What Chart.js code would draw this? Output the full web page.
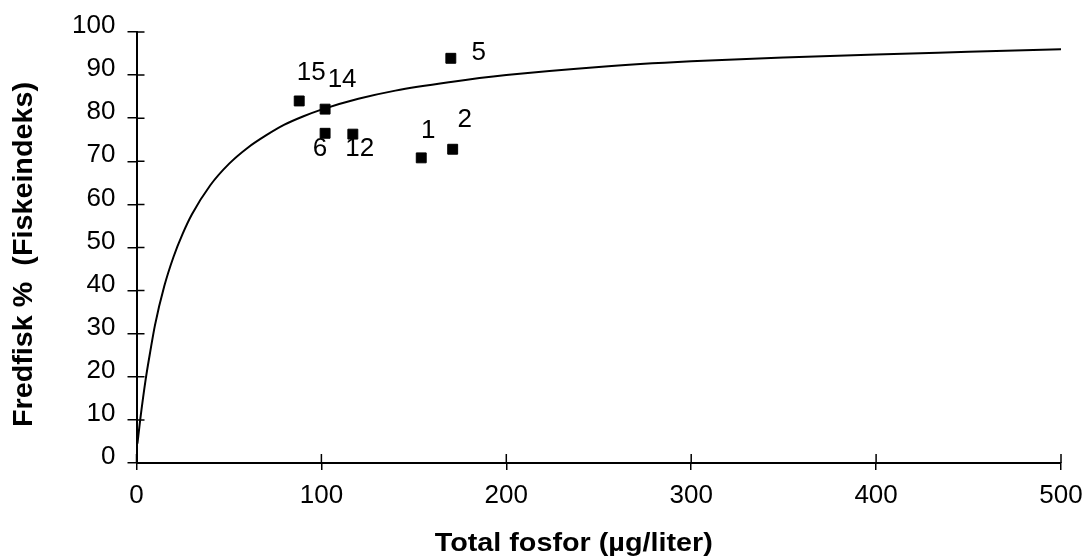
<!DOCTYPE html>
<html>
<head>
<meta charset="utf-8">
<script src="https://cdn.jsdelivr.net/npm/chart.js@4"></script>
<style>
  html, body { margin: 0; padding: 0; background: #fff; }
  #wrap { width: 1087px; height: 559px; position: relative; }
</style>
</head>
<body>
<div id="wrap"><canvas id="chart"></canvas></div>
<script>
// measured lakes
const lakeNames = ['15', '14', '6', '12', '1', '2', '5'];
const lakeFosfor = [88, 102, 102, 117, 154, 171, 170];
const lakeFredfisk = [84, 82.1, 76.5, 76.3, 70.8, 72.8, 93.9];

// fitted curve
const curveFosfor = [0.5, 2, 5, 7.5, 10, 15, 20, 25, 30, 40, 50, 60, 70, 80, 90, 100, 120, 140, 170, 200, 250, 300, 350, 400, 450, 500];
const curveFredfisk = [4.5, 10, 19.5, 26, 32, 41, 47.8, 53.2, 57.7, 64.5, 69.4, 73.1, 76, 78.5, 80.4, 82, 84.5, 86.4, 88.4, 90, 91.9, 93.2, 94.1, 94.8, 95.4, 96];

const xTicks = [0, 100, 200, 300, 400, 500];

const xTitle = 'Total fosfor (µg/liter)';
const yTitle = 'Fredfisk %  (Fiskeindeks)';

// label offsets (px) from each marker
const labelDx = [12, 17, -5, 7, 7, 12, 28];
const labelDy = [-28, -29, 16, 15, -27, -29, -5];

const FONT = '"Liberation Sans", Arial, sans-serif';
Chart.defaults.font.family = FONT;
Chart.defaults.color = '#000';

// tick marks that cross the axis line
const innerTicks = {
    id: 'innerTicks',
    afterDraw(chart) {
        const c = chart.ctx;
        const xs = chart.scales.x, ys = chart.scales.y;
        c.save();
        c.strokeStyle = '#000';
        c.lineWidth = 1.5;
        c.beginPath();
        xs.ticks.forEach(t => {
            const px = xs.getPixelForValue(t.value);
            c.moveTo(px, ys.bottom);
            c.lineTo(px, ys.bottom - 9);
        });
        ys.ticks.forEach(t => {
            const py = ys.getPixelForValue(t.value);
            c.moveTo(xs.left, py);
            c.lineTo(xs.left + 8, py);
        });
        c.stroke();
        c.restore();
    }
};

const pointLabels = {
    id: 'pointLabels',
    afterDatasetsDraw(chart) {
        const c = chart.ctx;
        const meta = chart.getDatasetMeta(1);
        c.save();
        c.font = '26px ' + FONT;
        c.fillStyle = '#000';
        c.textAlign = 'center';
        c.textBaseline = 'middle';
        meta.data.forEach((el, i) => {
            c.fillText(lakeNames[i], el.x + labelDx[i], el.y + labelDy[i]);
        });
        c.restore();
    }
};

// axis titles, a bit wider than the font like in the original print
function stretchedText(c, text, x, y, width, rot) {
    c.save();
    c.translate(x, y);
    c.rotate(rot);
    const w = c.measureText(text).width;
    c.scale(width / w, 1);
    c.fillText(text, 0, 0);
    c.restore();
}

const axisTitles = {
    id: 'axisTitles',
    afterDraw(chart) {
        const c = chart.ctx;
        const area = chart.chartArea;
        c.save();
        c.fillStyle = '#000';
        c.textAlign = 'center';
        c.textBaseline = 'middle';
        c.font = 'bold 25px ' + FONT;
        stretchedText(c, xTitle, (area.left + area.right) / 2 - 25, 544, 278, 0);
        c.font = 'bold 27px ' + FONT;
        stretchedText(c, yTitle, 25, (area.top + area.bottom) / 2 + 7, 345, -Math.PI / 2);
        c.restore();
    }
};

new Chart(document.getElementById('chart'), {
    type: 'scatter',
    data: {
        datasets: [{
            label: 'Kurve',
            data: curveFosfor.map((x, i) => ({ x: x, y: curveFredfisk[i] })),
            showLine: true,
            borderColor: '#000',
            borderWidth: 2,
            pointRadius: 0,
            cubicInterpolationMode: 'monotone',
            order: 2
        }, {
            label: 'Søer',
            data: lakeFosfor.map((x, i) => ({ x: x, y: lakeFredfisk[i] })),
            pointStyle: 'rect',
            pointRadius: 7,
            backgroundColor: '#000',
            borderColor: '#000',
            order: 1
        }]
    },
    options: {
        responsive: true,
        maintainAspectRatio: false,
        animation: false,
        layout: { padding: { top: 32, right: 26, left: 0, bottom: 0 } },
        plugins: {
            legend: { display: false },
            tooltip: { enabled: false }
        },
        scales: {
            x: {
                type: 'linear',
                min: 0,
                max: 500,
                afterBuildTicks: s => { s.ticks = xTicks.map(v => ({ value: v })); },
                afterFit: s => { s.height = 96; s.paddingRight = 0; s.paddingLeft = 0; },
                border: { color: '#000', width: 2 },
                grid: { drawOnChartArea: false, color: '#000', lineWidth: 1.5, tickLength: 7 },
                ticks: { font: { size: 26 }, padding: 10, maxRotation: 0 }
            },
            y: {
                min: 0,
                max: 100,
                afterFit: s => { s.width = 136.5; s.paddingTop = 0; s.paddingBottom = 0; },
                border: { color: '#000', width: 2 },
                grid: { drawOnChartArea: false, color: '#000', lineWidth: 1.5, tickLength: 9 },
                ticks: { stepSize: 10, font: { size: 26 }, padding: 12, labelOffset: -6 }
            }
        }
    },
    plugins: [innerTicks, pointLabels, axisTitles]
});
</script>
</body>
</html>
